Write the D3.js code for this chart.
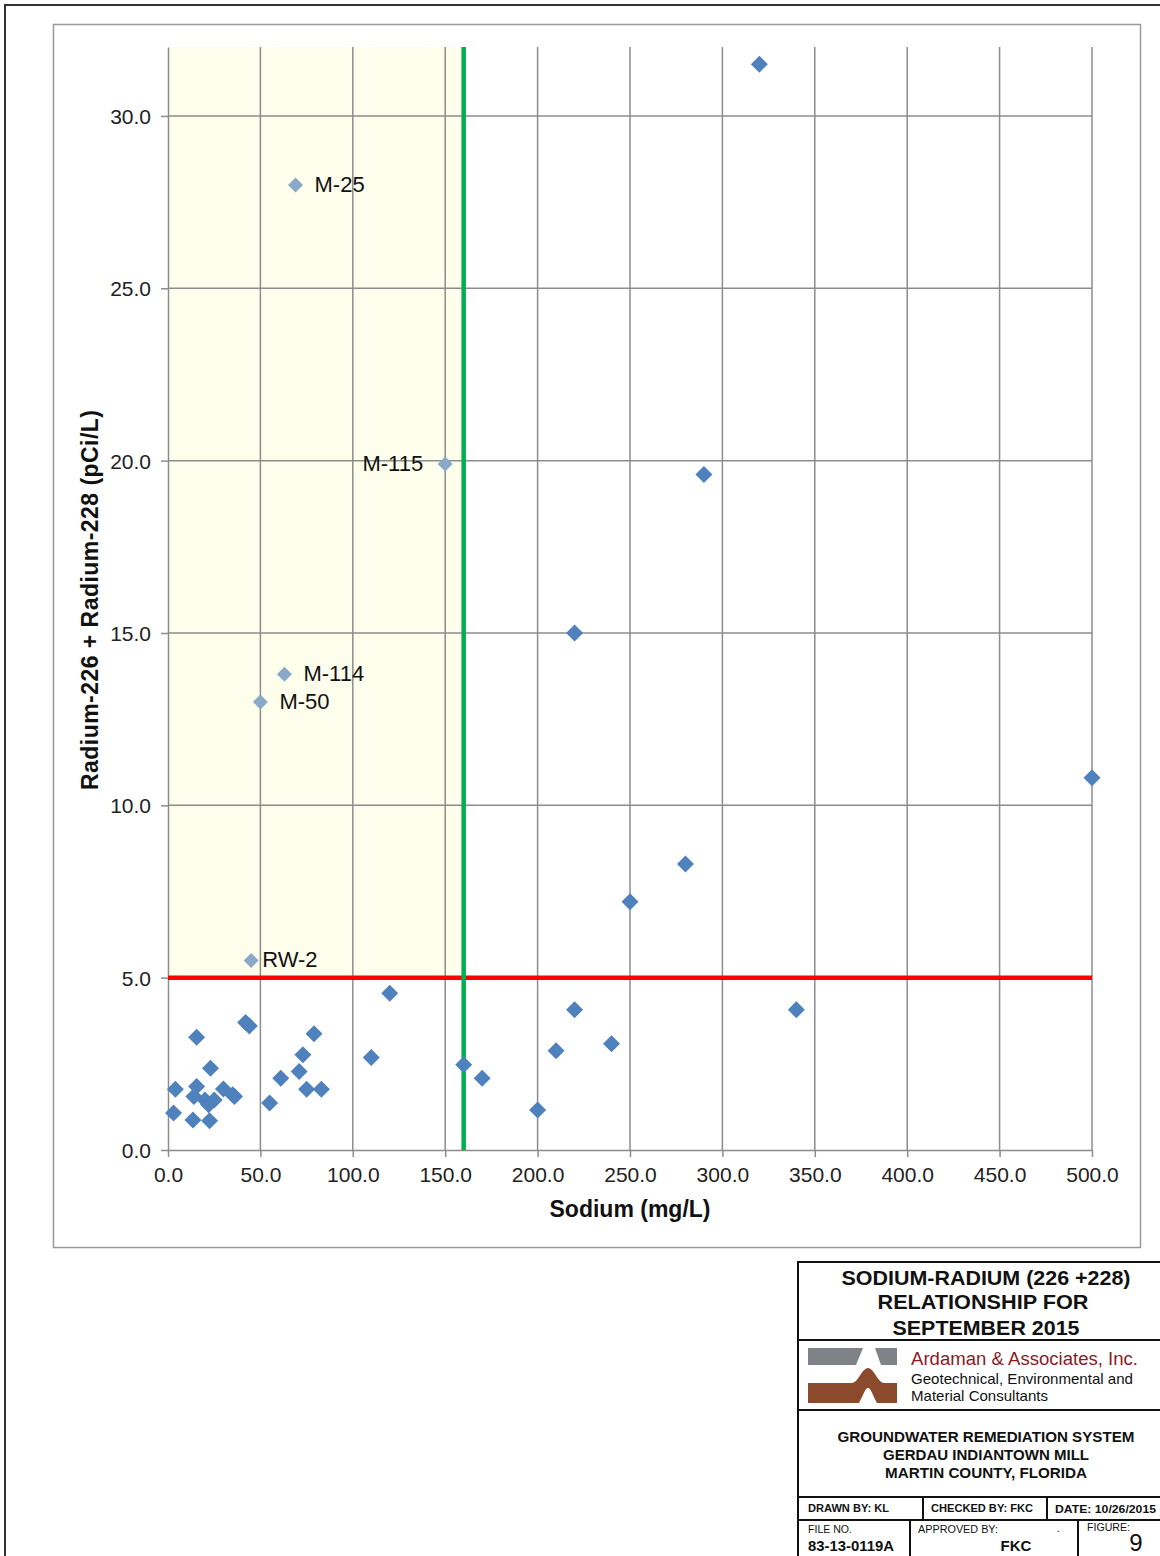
<!DOCTYPE html>
<html lang="en">
<head>
<meta charset="utf-8">
<script src="https://d3js.org/d3.v7.min.js"></script>
<style>
  body { margin: 0; background: #fff; }
  text { font-family: "Liberation Sans", Arial, sans-serif; }
</style>
</head>
<body>
<script type="text/javascript">

// Sodium (mg/L) vs Radium-226 + Radium-228 (pCi/L), September 2015
var sodium = [120, 110, 42, 44, 15.5, 23, 4, 15.5, 14, 20, 22, 25, 30, 36, 35, 3, 13.5, 22.5,
              55, 61, 71, 73, 79, 75, 83, 160, 170, 200, 210, 220, 240, 340,
              320, 290, 220, 500, 280, 250];
var radium = [4.55, 2.68, 3.7, 3.6, 3.27, 2.37, 1.76, 1.84, 1.55, 1.45, 1.31, 1.45, 1.77, 1.55, 1.6, 1.07, 0.87, 0.85,
              1.36, 2.08, 2.28, 2.76, 3.37, 1.76, 1.76, 2.47, 2.08, 1.16, 2.88, 4.07, 3.08, 4.07,
              31.5, 19.6, 15.0, 10.8, 8.3, 7.2];

// labelled wells
var wellNames  = ["M-25", "M-115", "M-114", "M-50", "RW-2"];
var wellSodium = [69, 150, 63, 50, 45];
var wellRadium = [28.0, 19.9, 13.8, 13.0, 5.5];
var wellSide   = ["right", "left", "right", "right", "right"];

var xTicks = [0, 50, 100, 150, 200, 250, 300, 350, 400, 450, 500];
var yTicks = [0, 5, 10, 15, 20, 25, 30];
var radiumLimit = 5;
var sodiumLimit = 160;

var w = 1160, h = 1556;

var svg = d3.select("body").append("svg")
    .attr("width", w)
    .attr("height", h);

// page frame
svg.append("rect").attr("x", 5).attr("y", 5).attr("width", w + 10).attr("height", h + 10)
    .attr("fill", "none").attr("stroke", "#333").attr("stroke-width", 2);
svg.append("rect").attr("x", 53.5).attr("y", 24.5).attr("width", 1087).attr("height", 1223)
    .attr("fill", "none").attr("stroke", "#999").attr("stroke-width", 1.5);

var x = d3.scaleLinear().domain([0, 500]).range([168, 1092]);
var y = d3.scaleLinear().domain([0, 32]).range([1150, 47]);

// shaded zone
svg.append("rect")
    .attr("x", x(0)).attr("y", y(32))
    .attr("width", x(sodiumLimit) - x(0))
    .attr("height", y(radiumLimit) - y(32))
    .attr("fill", "#fefeec");

// grid
svg.append("g").selectAll("line").data(yTicks.slice(1)).enter().append("line")
    .attr("x1", x(0)).attr("x2", x(500))
    .attr("y1", d => y(d)).attr("y2", d => y(d))
    .attr("stroke", "#8c8c8c").attr("stroke-width", 1.5);
svg.append("g").selectAll("line").data(xTicks.slice(1)).enter().append("line")
    .attr("x1", d => x(d)).attr("x2", d => x(d))
    .attr("y1", y(0)).attr("y2", y(32))
    .attr("stroke", "#8c8c8c").attr("stroke-width", 1.5);

// axes
var xAxis = svg.append("g").attr("transform", "translate(0," + y(0) + ")")
    .call(d3.axisBottom(x).tickValues(xTicks).tickSizeInner(7).tickSizeOuter(0)
      .tickPadding(10).tickFormat(d3.format(".1f")));
var yAxis = svg.append("g").attr("transform", "translate(" + x(0) + ",0)")
    .call(d3.axisLeft(y).tickValues(yTicks).tickSizeInner(7).tickSizeOuter(0)
      .tickPadding(10).tickFormat(d3.format(".1f")));
[xAxis, yAxis].forEach(function(a) {
  a.select(".domain").attr("stroke", "#8c8c8c").attr("stroke-width", 1.5);
  a.selectAll(".tick line").attr("stroke", "#8c8c8c").attr("stroke-width", 1.5);
  a.selectAll(".tick text").attr("fill", "#222").style("font-size", "21px")
    .style("font-family", "'Liberation Sans', Arial, sans-serif");
});
yAxis.selectAll(".tick text").attr("dy", "0.36em");

// limit lines
svg.append("line")
    .attr("x1", x(0)).attr("x2", x(500))
    .attr("y1", y(radiumLimit)).attr("y2", y(radiumLimit))
    .attr("stroke", "#ff0000").attr("stroke-width", 4.5);
svg.append("line")
    .attr("x1", x(sodiumLimit)).attr("x2", x(sodiumLimit))
    .attr("y1", y(0)).attr("y2", y(32))
    .attr("stroke", "#00b050").attr("stroke-width", 4.5);

// points
var diamond = "M0,-8.5L8.5,0L0,8.5L-8.5,0Z";
svg.append("g").selectAll("path").data(d3.range(sodium.length)).enter().append("path")
    .attr("d", diamond)
    .attr("transform", i => "translate(" + x(sodium[i]) + "," + y(radium[i]) + ")")
    .attr("fill", "#4f81bd");

var wells = svg.append("g").selectAll("g").data(d3.range(wellNames.length)).enter().append("g")
    .attr("transform", i => "translate(" + x(wellSodium[i]) + "," + y(wellRadium[i]) + ")");
wells.append("path").attr("d", "M0,-7.5L7.5,0L0,7.5L-7.5,0Z").attr("fill", "#8aa8c8");
wells.append("text")
    .attr("x", i => wellSide[i] === "left" ? -22 : (wellNames[i] === "RW-2" ? 11 : 19))
    .attr("y", 7)
    .attr("text-anchor", i => wellSide[i] === "left" ? "end" : "start")
    .style("font-size", "22px").attr("fill", "#111")
    .text(i => wellNames[i]);

// axis titles
svg.append("text")
    .attr("x", 630).attr("y", 1217).attr("text-anchor", "middle")
    .style("font-size", "23px").style("font-weight", "bold").attr("fill", "#111")
    .text("Sodium (mg/L)");
svg.append("text")
    .attr("transform", "translate(98,600) rotate(-90)").attr("text-anchor", "middle")
    .style("font-size", "23px").style("font-weight", "bold").attr("fill", "#111")
    .attr("textLength", 380)
    .text("Radium-226 + Radium-228 (pCi/L)");

// title block
var tb = svg.append("g");
function hline(x1, x2, yy) {
  tb.append("line").attr("x1", x1).attr("x2", x2).attr("y1", yy).attr("y2", yy)
    .attr("stroke", "#111").attr("stroke-width", 2);
}
function vline(xx, y1, y2) {
  tb.append("line").attr("x1", xx).attr("x2", xx).attr("y1", y1).attr("y2", y2)
    .attr("stroke", "#111").attr("stroke-width", 2);
}
hline(797, 1162, 1262);
vline(798, 1262, 1558);
hline(797, 1162, 1340);
hline(797, 1162, 1410);
hline(797, 1162, 1497);
hline(797, 1162, 1520);
vline(923, 1497, 1520);
vline(1047, 1497, 1520);
vline(910, 1520, 1558);
vline(1078, 1520, 1558);

function txt(s, tx, ty, size, weight, anchor, fill, len) {
  var t = tb.append("text").attr("x", tx).attr("y", ty)
    .attr("text-anchor", anchor || "start")
    .style("font-size", size + "px").style("font-weight", weight || "normal")
    .attr("fill", fill || "#111").text(s);
  if (len) t.attr("textLength", len).attr("lengthAdjust", "spacingAndGlyphs");
}
txt("SODIUM-RADIUM (226 +228)", 986, 1285, 21, "bold", "middle", null, 289);
txt("RELATIONSHIP FOR", 983, 1309, 21, "bold", "middle", null, 211);
txt("SEPTEMBER 2015", 986, 1335, 21, "bold", "middle", null, 187);

// logo
tb.append("path").attr("d", "M808,1348L863,1348L856,1365L808,1365Z").attr("fill", "#7f8287");
tb.append("path").attr("d", "M875,1348L897,1348L897,1365L881,1365Z").attr("fill", "#7f8287");
tb.append("path")
  .attr("d", "M808,1383L852,1383C858,1383 862,1368 868,1368C874,1368 878,1383 884,1383L897,1383L897,1403L808,1403Z")
  .attr("fill", "#8b4a2b");
tb.append("path")
  .attr("d", "M859,1403C863,1396 865,1388 868,1388C871,1388 873,1396 877,1403Z")
  .attr("fill", "#fff");
txt("Ardaman & Associates, Inc.", 911, 1365, 18, "normal", "start", "#8b1a24", 227);
txt("Geotechnical, Environmental and", 911, 1384, 15, "normal", "start", "#111", 222);
txt("Material Consultants", 911, 1401, 15, "normal", "start", "#111", 137);

txt("GROUNDWATER REMEDIATION SYSTEM", 986, 1442, 15, "bold", "middle", null, 297);
txt("GERDAU INDIANTOWN MILL", 986, 1460, 15, "bold", "middle", null, 206);
txt("MARTIN COUNTY, FLORIDA", 986, 1478, 15, "bold", "middle", null, 202);

txt("DRAWN BY:  KL", 808, 1512, 11, "bold", "start", null, 81);
txt("CHECKED BY:  FKC", 931, 1512, 11, "bold", "start", null, 102);
txt("DATE: 10/26/2015", 1055, 1513, 11, "bold", "start", null, 101);
txt("FILE NO.", 808, 1533, 10, "normal", "start", null, 44);
txt("83-13-0119A", 808, 1551, 14, "bold", "start", null, 86);
txt("APPROVED BY:", 918, 1533, 10, "normal", "start", null, 80);
txt(".", 1057, 1532, 10, "normal");
txt("FKC", 1016, 1551, 15, "bold", "middle");
txt("FIGURE:", 1087, 1531, 10, "normal", "start", null, 43);
txt("9", 1136, 1551, 24, "normal", "middle");

</script>
</body>
</html>
